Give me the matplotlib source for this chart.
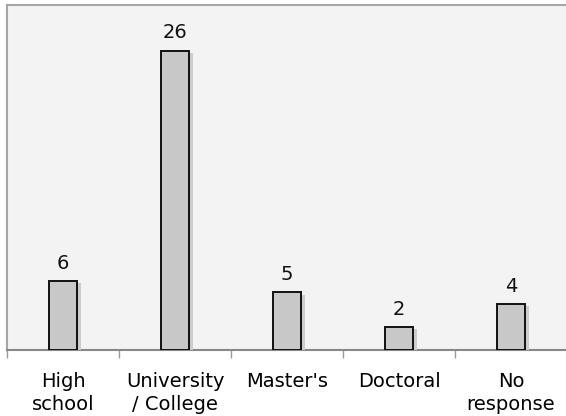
import matplotlib.pyplot as plt
import matplotlib.patheffects as pe

categories = ["High\nschool", "University\n/ College", "Master's", "Doctoral", "No\nresponse"]
counts = [6, 26, 5, 2, 4]

fig = plt.figure(figsize=(5.66, 4.16), dpi=100)
ax = fig.add_axes([7 / 566, 66 / 416, 560 / 566, 345.5 / 416])
ax.set_facecolor('#f3f3f3')

x = list(range(len(categories)))
bars = ax.bar(x, counts, width=0.25, color='#c8c8c8', edgecolor='#111111',
              linewidth=1.4, zorder=3)
for b in bars:
    b.set_path_effects([pe.SimplePatchShadow(offset=(2.6, -1.6), shadow_rgbFace='#cccccc', alpha=1.0),
                        pe.Normal()])

for xi, v in zip(x, counts):
    ax.annotate(str(v), (xi, v), xytext=(0, 6), textcoords='offset points',
                ha='center', va='bottom', fontsize=14, color='#111111',
                family='DejaVu Sans')

ax.set_xlim(-0.5, len(categories) - 0.5)
ax.set_ylim(0, 30)
ax.set_yticks([])

# boundary ticks, labels in the middle
ax.set_xticks([i - 0.5 for i in range(len(categories) + 1)])
ax.set_xticklabels([])
ax.set_xticks(x, minor=True)
ax.set_xticklabels(categories, minor=True, fontsize=14, family='DejaVu Sans',
                   linespacing=1.3)
ax.tick_params(axis='x', which='major', length=6, color='#999999', width=1)
ax.tick_params(axis='x', which='minor', length=0, pad=15.5)

for side in ['left', 'top']:
    ax.spines[side].set_color('#a6a6a6')
    ax.spines[side].set_linewidth(1.5)
ax.spines['bottom'].set_color('#888888')
ax.spines['bottom'].set_linewidth(1.5)
ax.spines['right'].set_visible(False)

fig.savefig('out.png', dpi=100, facecolor='white')
